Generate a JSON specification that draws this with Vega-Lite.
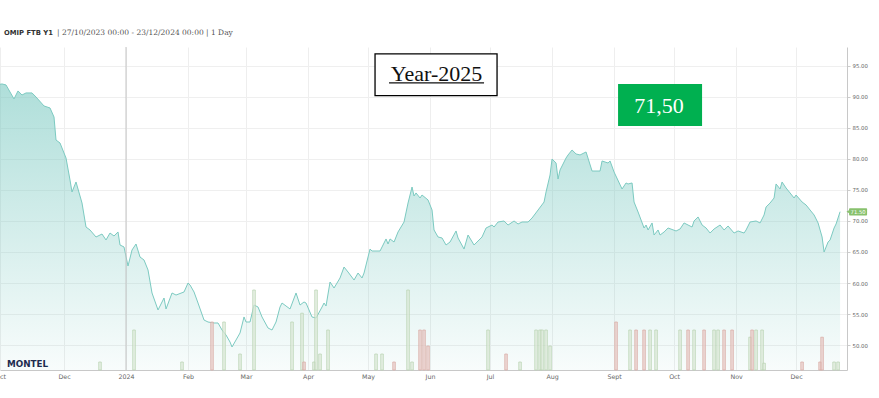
{
  "$schema": "https://vega.github.io/schema/vega-lite/v6.json",
  "width": 847,
  "height": 323,
  "autosize": {"type": "none"},
  "padding": {"left": 0, "top": 47, "right": 32, "bottom": 28},
  "background": "white",
  "config": {"view": {"stroke": null}, "font": "DejaVu Sans"},
  "datasets": {
    "price": [
      {"date": "2023-10-27", "price": 93.55}, {"date": "2023-10-28", "price": 91.94}, {"date": "2023-10-31", "price": 92.10},
      {"date": "2023-11-02", "price": 91.94}, {"date": "2023-11-04", "price": 90.81}, {"date": "2023-11-06", "price": 89.68},
      {"date": "2023-11-08", "price": 90.97}, {"date": "2023-11-10", "price": 90.32}, {"date": "2023-11-12", "price": 90.65},
      {"date": "2023-11-15", "price": 90.65}, {"date": "2023-11-17", "price": 90.0}, {"date": "2023-11-21", "price": 88.55},
      {"date": "2023-11-24", "price": 88.23}, {"date": "2023-11-26", "price": 86.77}, {"date": "2023-11-27", "price": 83.06},
      {"date": "2023-11-29", "price": 82.58}, {"date": "2023-12-02", "price": 80.16}, {"date": "2023-12-04", "price": 76.61},
      {"date": "2023-12-05", "price": 74.68}, {"date": "2023-12-07", "price": 76.29}, {"date": "2023-12-10", "price": 72.90},
      {"date": "2023-12-12", "price": 69.03}, {"date": "2023-12-14", "price": 68.55}, {"date": "2023-12-17", "price": 67.42},
      {"date": "2023-12-20", "price": 67.90}, {"date": "2023-12-22", "price": 66.94}, {"date": "2023-12-24", "price": 68.06},
      {"date": "2023-12-26", "price": 67.58}, {"date": "2023-12-28", "price": 68.23}, {"date": "2023-12-29", "price": 66.13},
      {"date": "2023-12-31", "price": 65.81}, {"date": "2024-01-02", "price": 62.74}, {"date": "2024-01-04", "price": 65.32},
      {"date": "2024-01-06", "price": 66.29}, {"date": "2024-01-08", "price": 64.19}, {"date": "2024-01-10", "price": 63.71},
      {"date": "2024-01-12", "price": 62.10}, {"date": "2024-01-14", "price": 58.39}, {"date": "2024-01-17", "price": 55.65},
      {"date": "2024-01-20", "price": 57.58}, {"date": "2024-01-21", "price": 55.81}, {"date": "2024-01-24", "price": 58.39},
      {"date": "2024-01-26", "price": 58.06}, {"date": "2024-01-30", "price": 58.55}, {"date": "2024-02-01", "price": 60.0},
      {"date": "2024-02-02", "price": 59.68}, {"date": "2024-02-04", "price": 58.55}, {"date": "2024-02-06", "price": 56.77},
      {"date": "2024-02-09", "price": 54.03}, {"date": "2024-02-11", "price": 53.71}, {"date": "2024-02-14", "price": 53.55},
      {"date": "2024-02-16", "price": 53.55}, {"date": "2024-02-18", "price": 52.42}, {"date": "2024-02-20", "price": 51.61},
      {"date": "2024-02-22", "price": 50.48}, {"date": "2024-02-23", "price": 49.68}, {"date": "2024-02-25", "price": 50.81},
      {"date": "2024-02-27", "price": 51.94}, {"date": "2024-02-29", "price": 54.52}, {"date": "2024-03-01", "price": 53.71},
      {"date": "2024-03-03", "price": 53.71}, {"date": "2024-03-05", "price": 56.45}, {"date": "2024-03-07", "price": 56.13},
      {"date": "2024-03-09", "price": 54.52}, {"date": "2024-03-12", "price": 52.74}, {"date": "2024-03-14", "price": 52.42},
      {"date": "2024-03-16", "price": 53.71}, {"date": "2024-03-18", "price": 56.13}, {"date": "2024-03-19", "price": 56.77},
      {"date": "2024-03-23", "price": 55.81}, {"date": "2024-03-26", "price": 58.39}, {"date": "2024-03-28", "price": 56.45},
      {"date": "2024-03-30", "price": 56.94}, {"date": "2024-03-31", "price": 56.77}, {"date": "2024-04-03", "price": 54.52},
      {"date": "2024-04-05", "price": 54.35}, {"date": "2024-04-08", "price": 56.13}, {"date": "2024-04-09", "price": 56.77},
      {"date": "2024-04-10", "price": 56.29}, {"date": "2024-04-12", "price": 60.16}, {"date": "2024-04-14", "price": 59.19},
      {"date": "2024-04-17", "price": 60.81}, {"date": "2024-04-19", "price": 62.58}, {"date": "2024-04-21", "price": 61.77},
      {"date": "2024-04-24", "price": 60.48}, {"date": "2024-04-26", "price": 61.61}, {"date": "2024-04-28", "price": 60.81},
      {"date": "2024-04-29", "price": 61.61}, {"date": "2024-05-02", "price": 65.48}, {"date": "2024-05-03", "price": 65.16},
      {"date": "2024-05-07", "price": 65.16}, {"date": "2024-05-10", "price": 67.10}, {"date": "2024-05-11", "price": 66.29},
      {"date": "2024-05-12", "price": 67.10}, {"date": "2024-05-14", "price": 66.61}, {"date": "2024-05-16", "price": 68.23},
      {"date": "2024-05-19", "price": 69.84}, {"date": "2024-05-21", "price": 72.90}, {"date": "2024-05-23", "price": 75.48},
      {"date": "2024-05-24", "price": 74.03}, {"date": "2024-05-25", "price": 74.52}, {"date": "2024-05-27", "price": 73.71},
      {"date": "2024-05-28", "price": 74.19}, {"date": "2024-05-31", "price": 73.39}, {"date": "2024-06-02", "price": 71.77},
      {"date": "2024-06-03", "price": 68.55}, {"date": "2024-06-05", "price": 67.42}, {"date": "2024-06-07", "price": 67.26},
      {"date": "2024-06-09", "price": 66.13}, {"date": "2024-06-11", "price": 66.61}, {"date": "2024-06-14", "price": 68.39},
      {"date": "2024-06-15", "price": 67.26}, {"date": "2024-06-18", "price": 65.48}, {"date": "2024-06-20", "price": 67.74},
      {"date": "2024-06-23", "price": 66.13}, {"date": "2024-06-27", "price": 67.42}, {"date": "2024-06-29", "price": 68.87},
      {"date": "2024-07-02", "price": 69.35}, {"date": "2024-07-03", "price": 69.03}, {"date": "2024-07-05", "price": 69.84},
      {"date": "2024-07-08", "price": 70.0}, {"date": "2024-07-10", "price": 69.35}, {"date": "2024-07-13", "price": 70.0},
      {"date": "2024-07-15", "price": 69.52}, {"date": "2024-07-17", "price": 69.84}, {"date": "2024-07-20", "price": 69.84},
      {"date": "2024-07-22", "price": 70.48}, {"date": "2024-07-25", "price": 71.77}, {"date": "2024-07-28", "price": 73.06},
      {"date": "2024-07-29", "price": 74.68}, {"date": "2024-07-31", "price": 77.42}, {"date": "2024-08-01", "price": 80.0},
      {"date": "2024-08-03", "price": 79.35}, {"date": "2024-08-04", "price": 76.77}, {"date": "2024-08-05", "price": 78.23},
      {"date": "2024-08-08", "price": 80.16}, {"date": "2024-08-09", "price": 80.65}, {"date": "2024-08-11", "price": 81.45},
      {"date": "2024-08-13", "price": 80.81}, {"date": "2024-08-15", "price": 80.65}, {"date": "2024-08-18", "price": 81.13},
      {"date": "2024-08-21", "price": 78.06}, {"date": "2024-08-25", "price": 78.06}, {"date": "2024-08-26", "price": 79.68},
      {"date": "2024-08-29", "price": 79.35}, {"date": "2024-08-30", "price": 79.68}, {"date": "2024-09-01", "price": 77.90},
      {"date": "2024-09-05", "price": 75.16}, {"date": "2024-09-07", "price": 76.13}, {"date": "2024-09-08", "price": 75.97},
      {"date": "2024-09-10", "price": 76.13}, {"date": "2024-09-11", "price": 73.06}, {"date": "2024-09-13", "price": 71.45},
      {"date": "2024-09-16", "price": 68.87}, {"date": "2024-09-17", "price": 69.35}, {"date": "2024-09-18", "price": 68.55},
      {"date": "2024-09-20", "price": 69.68}, {"date": "2024-09-21", "price": 67.74}, {"date": "2024-09-23", "price": 68.55},
      {"date": "2024-09-24", "price": 67.74}, {"date": "2024-09-26", "price": 68.23}, {"date": "2024-09-28", "price": 68.87},
      {"date": "2024-10-02", "price": 68.39}, {"date": "2024-10-04", "price": 68.71}, {"date": "2024-10-06", "price": 69.68},
      {"date": "2024-10-08", "price": 69.35}, {"date": "2024-10-10", "price": 69.03}, {"date": "2024-10-11", "price": 70.0},
      {"date": "2024-10-13", "price": 70.65}, {"date": "2024-10-15", "price": 69.35}, {"date": "2024-10-17", "price": 68.87},
      {"date": "2024-10-19", "price": 68.06}, {"date": "2024-10-21", "price": 68.71}, {"date": "2024-10-24", "price": 69.35},
      {"date": "2024-10-26", "price": 68.55}, {"date": "2024-10-28", "price": 69.19}, {"date": "2024-10-31", "price": 68.06},
      {"date": "2024-11-02", "price": 68.39}, {"date": "2024-11-05", "price": 68.06}, {"date": "2024-11-06", "price": 68.55},
      {"date": "2024-11-08", "price": 69.84}, {"date": "2024-11-11", "price": 70.0}, {"date": "2024-11-13", "price": 69.68},
      {"date": "2024-11-15", "price": 70.97}, {"date": "2024-11-16", "price": 72.26}, {"date": "2024-11-18", "price": 72.90},
      {"date": "2024-11-20", "price": 73.71}, {"date": "2024-11-21", "price": 75.97}, {"date": "2024-11-23", "price": 75.16},
      {"date": "2024-11-24", "price": 76.29}, {"date": "2024-11-26", "price": 75.32}, {"date": "2024-11-28", "price": 74.52},
      {"date": "2024-11-30", "price": 73.71}, {"date": "2024-12-01", "price": 74.19}, {"date": "2024-12-04", "price": 73.06},
      {"date": "2024-12-06", "price": 72.58}, {"date": "2024-12-08", "price": 71.77}, {"date": "2024-12-10", "price": 70.97},
      {"date": "2024-12-12", "price": 69.68}, {"date": "2024-12-14", "price": 67.42}, {"date": "2024-12-15", "price": 65.0},
      {"date": "2024-12-17", "price": 66.61}, {"date": "2024-12-18", "price": 66.94}, {"date": "2024-12-20", "price": 68.87},
      {"date": "2024-12-21", "price": 69.52}, {"date": "2024-12-23", "price": 71.5}
    ],
    "volume": [
      {"date": "2023-12-19", "vol": 1, "side": "up"}, {"date": "2024-01-05", "vol": 5, "side": "up"},
      {"date": "2024-01-29", "vol": 1, "side": "up"}, {"date": "2024-02-13", "vol": 6, "side": "down"},
      {"date": "2024-02-19", "vol": 6, "side": "up"}, {"date": "2024-02-27", "vol": 2, "side": "up"},
      {"date": "2024-03-05", "vol": 10, "side": "up"}, {"date": "2024-03-24", "vol": 6, "side": "up"},
      {"date": "2024-03-29", "vol": 7.1, "side": "up"}, {"date": "2024-03-30", "vol": 1, "side": "down"},
      {"date": "2024-04-04", "vol": 1, "side": "up"}, {"date": "2024-04-05", "vol": 10, "side": "up"},
      {"date": "2024-04-07", "vol": 2, "side": "up"}, {"date": "2024-04-11", "vol": 5, "side": "up"},
      {"date": "2024-05-05", "vol": 2, "side": "up"}, {"date": "2024-05-08", "vol": 2, "side": "up"},
      {"date": "2024-05-14", "vol": 1, "side": "down"}, {"date": "2024-05-21", "vol": 10, "side": "up"},
      {"date": "2024-05-23", "vol": 1, "side": "up"}, {"date": "2024-05-27", "vol": 5, "side": "down"},
      {"date": "2024-05-29", "vol": 5, "side": "down"}, {"date": "2024-05-31", "vol": 3, "side": "down"},
      {"date": "2024-06-30", "vol": 5, "side": "up"}, {"date": "2024-07-09", "vol": 2, "side": "down"},
      {"date": "2024-07-16", "vol": 1, "side": "up"}, {"date": "2024-07-24", "vol": 5, "side": "up"},
      {"date": "2024-07-26", "vol": 5, "side": "up"}, {"date": "2024-07-27", "vol": 5, "side": "up"},
      {"date": "2024-07-29", "vol": 5, "side": "up"}, {"date": "2024-07-31", "vol": 3, "side": "up"},
      {"date": "2024-09-02", "vol": 6, "side": "down"}, {"date": "2024-09-09", "vol": 5, "side": "up"},
      {"date": "2024-09-12", "vol": 5, "side": "down"}, {"date": "2024-09-16", "vol": 5, "side": "down"},
      {"date": "2024-09-19", "vol": 5, "side": "up"}, {"date": "2024-09-22", "vol": 5, "side": "up"},
      {"date": "2024-10-04", "vol": 5, "side": "up"}, {"date": "2024-10-08", "vol": 5, "side": "down"},
      {"date": "2024-10-11", "vol": 5, "side": "up"}, {"date": "2024-10-16", "vol": 5, "side": "down"},
      {"date": "2024-10-21", "vol": 5, "side": "up"}, {"date": "2024-10-23", "vol": 5, "side": "up"},
      {"date": "2024-10-26", "vol": 5, "side": "down"}, {"date": "2024-10-30", "vol": 5, "side": "down"},
      {"date": "2024-11-08", "vol": 4.1, "side": "up"}, {"date": "2024-11-09", "vol": 5, "side": "down"},
      {"date": "2024-11-11", "vol": 5, "side": "up"}, {"date": "2024-11-14", "vol": 5, "side": "up"},
      {"date": "2024-11-15", "vol": 0.85, "side": "up"}, {"date": "2024-12-04", "vol": 1, "side": "down"},
      {"date": "2024-12-13", "vol": 1, "side": "down"}, {"date": "2024-12-14", "vol": 4.1, "side": "down"},
      {"date": "2024-12-20", "vol": 1, "side": "up"}, {"date": "2024-12-22", "vol": 1, "side": "up"}
    ]
  },
  "layer": [
    {
      "layer": [
        {
          "data": {"name": "price"},
          "mark": {"type": "area", "clip": true, "fill": {"gradient": "linear", "x1": 0, "y1": 0, "x2": 0, "y2": 1, "stops": [{"offset": 0, "color": "rgba(122,201,193,0.62)"}, {"offset": 1, "color": "rgba(122,201,193,0.05)"}]}},
          "encoding": {
            "x": {"field": "date", "type": "temporal", "title": null,
              "scale": {"type": "utc", "nice": false, "padding": 0, "domain": [1698624000000, 1735210800000]},
              "axis": {"title": null, "values": [1698624000000, 1701388800000, 1704067200000, 1706745600000, 1709251200000, 1711929600000, 1714521600000, 1717200000000, 1719792000000, 1722470400000, 1725148800000, 1727740800000, 1730419200000, 1733011200000], "tickCount": 30,
                "labelExpr": "utcmonth(datum.value) == 0 ? utcFormat(datum.value, '%Y') : (utcmonth(datum.value) == 8 ? 'Sept' : utcFormat(datum.value, '%b'))",
                "grid": true, "gridColor": "#eeeeee", "gridWidth": 1, "ticks": false, "domainColor": "#c8c8c8", "domainWidth": 1,
                "labelFont": "DejaVu Sans", "labelFontSize": 6.3, "labelColor": "#666666", "labelPadding": 3, "labelFlush": false, "labelOverlap": false, "labelBound": false}},
            "y": {"field": "price", "type": "quantitative", "title": null,
              "scale": {"domain": [45.97, 98.06], "zero": false, "nice": false},
              "axis": {"title": null, "orient": "right", "values": [50, 55, 60, 65, 70, 75, 80, 85, 90, 95], "tickCount": 30, "format": ".2f", "grid": true, "gridColor": "#efefef", "tickSize": 3, "tickColor": "#cccccc", "domainColor": "#c8c8c8", "labelFont": "DejaVu Sans", "labelFontSize": 5.4, "labelColor": "#666666", "labelPadding": 2, "labelOverlap": false, "labelBound": false}},
            "y2": {"datum": 45.97}
          }
        },
        {
          "data": {"name": "price"},
          "mark": {"type": "line", "color": "#7ccac1", "strokeWidth": 1, "clip": true},
          "encoding": {
            "x": {"field": "date", "type": "temporal", "title": null, "scale": {"type": "utc", "nice": false, "padding": 0, "domain": [1698624000000, 1735210800000]}},
            "y": {"field": "price", "type": "quantitative", "title": null, "scale": {"domain": [45.97, 98.06], "zero": false, "nice": false}}
          }
        },
        {
          "data": {"values": [{}]},
          "mark": {"type": "rule", "color": "#c4c4c4", "strokeWidth": 1},
          "encoding": {
            "x": {"datum": 1704067200000, "type": "temporal", "title": null, "scale": {"type": "utc", "nice": false, "padding": 0, "domain": [1698624000000, 1735210800000]}}
          }
        },
        {
          "data": {"values": [{}]},
          "mark": {"type": "rect", "fill": "white", "stroke": "black", "strokeWidth": 1.3},
          "encoding": {
            "x": {"datum": 1714824000000, "type": "temporal", "title": null, "scale": {"type": "utc", "nice": false, "padding": 0, "domain": [1698624000000, 1735210800000]}},
            "x2": {"datum": 1720094400000},
            "y": {"datum": 96.94, "type": "quantitative", "title": null, "scale": {"domain": [45.97, 98.06], "zero": false, "nice": false}},
            "y2": {"datum": 90.21}
          }
        },
        {
          "data": {"values": [{}]},
          "mark": {"type": "rule", "color": "#111111", "strokeWidth": 1.2},
          "encoding": {
            "x": {"datum": 1715428800000, "type": "temporal", "title": null, "scale": {"type": "utc", "nice": false, "padding": 0, "domain": [1698624000000, 1735210800000]}},
            "x2": {"datum": 1719532800000},
            "y": {"datum": 92.26, "type": "quantitative", "title": null, "scale": {"domain": [45.97, 98.06], "zero": false, "nice": false}}
          }
        },
        {
          "data": {"values": [{}]},
          "mark": {"type": "text", "text": "Year-2025", "font": "Liberation Serif", "fontSize": 22, "color": "#111111", "align": "center", "baseline": "alphabetic"},
          "encoding": {
            "x": {"datum": 1717480800000, "type": "temporal", "title": null, "scale": {"type": "utc", "nice": false, "padding": 0, "domain": [1698624000000, 1735210800000]}},
            "y": {"datum": 92.58, "type": "quantitative", "title": null, "scale": {"domain": [45.97, 98.06], "zero": false, "nice": false}}
          }
        },
        {
          "data": {"values": [{}]},
          "mark": {"type": "rect", "fill": "#00b050"},
          "encoding": {
            "x": {"datum": 1725321600000, "type": "temporal", "title": null, "scale": {"type": "utc", "nice": false, "padding": 0, "domain": [1698624000000, 1735210800000]}},
            "x2": {"datum": 1728950400000},
            "y": {"datum": 92.10, "type": "quantitative", "title": null, "scale": {"domain": [45.97, 98.06], "zero": false, "nice": false}},
            "y2": {"datum": 85.32}
          }
        },
        {
          "data": {"values": [{}]},
          "mark": {"type": "text", "text": "71,50", "font": "Liberation Serif", "fontSize": 22, "color": "white", "align": "center", "baseline": "alphabetic"},
          "encoding": {
            "x": {"datum": 1727092800000, "type": "temporal", "title": null, "scale": {"type": "utc", "nice": false, "padding": 0, "domain": [1698624000000, 1735210800000]}},
            "y": {"datum": 87.37, "type": "quantitative", "title": null, "scale": {"domain": [45.97, 98.06], "zero": false, "nice": false}}
          }
        },
        {
          "data": {"values": [{}]},
          "mark": {"type": "rect", "fill": "#88c16d", "cornerRadius": 1},
          "encoding": {
            "x": {"datum": 1735300800000, "type": "temporal", "title": null, "scale": {"type": "utc", "nice": false, "padding": 0, "domain": [1698624000000, 1735210800000]}},
            "x2": {"datum": 1736078400000},
            "y": {"datum": 72.05, "type": "quantitative", "title": null, "scale": {"domain": [45.97, 98.06], "zero": false, "nice": false}},
            "y2": {"datum": 70.87}
          }
        },
        {
          "data": {"values": [{}]},
          "mark": {"type": "point", "shape": "triangle-left", "filled": true, "color": "#88c16d", "size": 14, "opacity": 1},
          "encoding": {
            "x": {"datum": 1735257600000, "type": "temporal", "title": null, "scale": {"type": "utc", "nice": false, "padding": 0, "domain": [1698624000000, 1735210800000]}},
            "y": {"datum": 71.5, "type": "quantitative", "title": null, "scale": {"domain": [45.97, 98.06], "zero": false, "nice": false}}
          }
        },
        {
          "data": {"values": [{}]},
          "mark": {"type": "text", "text": "71.50", "font": "DejaVu Sans", "fontSize": 5.3, "color": "white", "align": "center", "baseline": "middle"},
          "encoding": {
            "x": {"datum": 1735689600000, "type": "temporal", "title": null, "scale": {"type": "utc", "nice": false, "padding": 0, "domain": [1698624000000, 1735210800000]}},
            "y": {"datum": 71.5, "type": "quantitative", "title": null, "scale": {"domain": [45.97, 98.06], "zero": false, "nice": false}}
          }
        },
        {
          "data": {"values": [{}]},
          "mark": {"type": "text", "text": "MONTEL", "font": "DejaVu Sans", "fontWeight": "bold", "fontSize": 8.8, "color": "#1e2b4f", "align": "left", "baseline": "alphabetic"},
          "encoding": {
            "x": {"datum": 1698926400000, "type": "temporal", "title": null, "scale": {"type": "utc", "nice": false, "padding": 0, "domain": [1698624000000, 1735210800000]}},
            "y": {"datum": 46.4, "type": "quantitative", "title": null, "scale": {"domain": [45.97, 98.06], "zero": false, "nice": false}}
          }
        },
        {
          "data": {"values": [{}]},
          "mark": {"type": "text", "text": "OMIP FTB Y1", "font": "DejaVu Sans", "fontWeight": "bold", "fontSize": 6.8, "color": "#333333", "align": "left", "baseline": "alphabetic"},
          "encoding": {
            "x": {"datum": 1698796800000, "type": "temporal", "title": null, "scale": {"type": "utc", "nice": false, "padding": 0, "domain": [1698624000000, 1735210800000]}},
            "y": {"datum": 100.0, "type": "quantitative", "title": null, "scale": {"domain": [45.97, 98.06], "zero": false, "nice": false}}
          }
        },
        {
          "data": {"values": [{}]},
          "mark": {"type": "text", "text": "| 27/10/2023 00:00 - 23/12/2024 00:00 | 1 Day", "font": "DejaVu Serif", "fontSize": 7.5, "color": "#555555", "align": "left", "baseline": "alphabetic"},
          "encoding": {
            "x": {"datum": 1701086400000, "type": "temporal", "title": null, "scale": {"type": "utc", "nice": false, "padding": 0, "domain": [1698624000000, 1735210800000]}},
            "y": {"datum": 100.0, "type": "quantitative", "title": null, "scale": {"domain": [45.97, 98.06], "zero": false, "nice": false}}
          }
        }
      ]
    },
    {
      "data": {"name": "volume"},
      "mark": {"type": "bar", "size": 2.6, "strokeWidth": 0.7, "fillOpacity": 0.7},
      "encoding": {
        "x": {"field": "date", "type": "temporal", "title": null,
          "scale": {"type": "utc", "nice": false, "padding": 0, "domain": [1698624000000, 1735210800000]}},
        "y": {"field": "vol", "type": "quantitative", "scale": {"domain": [0, 40.375], "nice": false}, "axis": null},
        "fill": {"field": "side", "type": "nominal", "scale": {"domain": ["up", "down"], "range": ["#dde9d9", "#e8c8c3"]}, "legend": null},
        "stroke": {"field": "side", "type": "nominal", "scale": {"domain": ["up", "down"], "range": ["#b8d2b0", "#d8aaa3"]}, "legend": null}
      }
    }
  ],
  "resolve": {"scale": {"y": "independent"}}
}
